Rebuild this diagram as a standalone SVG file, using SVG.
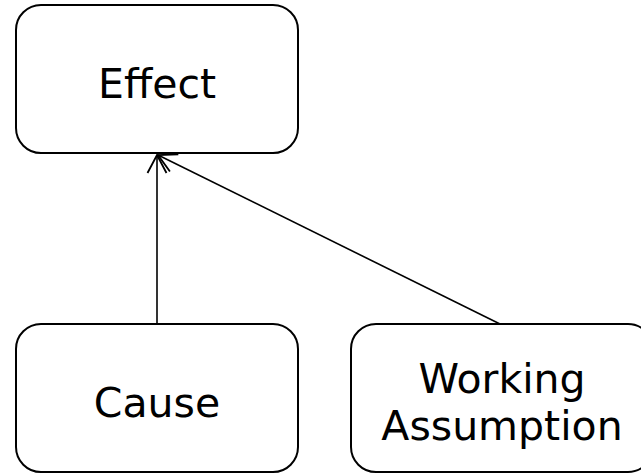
<svg xmlns="http://www.w3.org/2000/svg" width="641" height="473" viewBox="0 0 641 473">
  <style>
    .node rect { fill: #ffffff; stroke: #000000; stroke-width: 2; }
    .node text { font-family: "DejaVu Sans", Verdana, sans-serif; font-size: 41px; fill: #000000; text-anchor: middle; }
    .edge { fill: none; stroke: #000000; stroke-width: 1.6; marker-end: url(#open-arrow); }
  </style>
  <defs>
    <!-- open V arrowhead, tip at the end of the path -->
    <marker id="open-arrow" viewBox="0 0 20 22" refX="19" refY="11" markerWidth="20" markerHeight="22" markerUnits="userSpaceOnUse" orient="auto">
      <path d="M1,1.5 L19,11 L1,20.5" fill="none" stroke="#000000" stroke-width="1.8"/>
    </marker>
  </defs>

  <rect width="641" height="473" fill="#ffffff"/>

  <g id="node-effect" class="node">
    <rect x="16" y="5" width="282" height="148" rx="25" ry="25"/>
    <text x="157" y="98">Effect</text>
  </g>

  <g id="node-cause" class="node">
    <rect x="16" y="324" width="282" height="148" rx="25" ry="25"/>
    <text x="157" y="417">Cause</text>
  </g>

  <g id="node-working-assumption" class="node">
    <rect x="351" y="324" width="302" height="148" rx="25" ry="25"/>
    <text x="502" y="393">Working</text>
    <text x="502" y="440">Assumption</text>
  </g>

  <g id="connectors">
    <path class="edge" d="M157,324 L157,155"/>
    <path class="edge" d="M500,324 L158,155"/>
  </g>
</svg>
